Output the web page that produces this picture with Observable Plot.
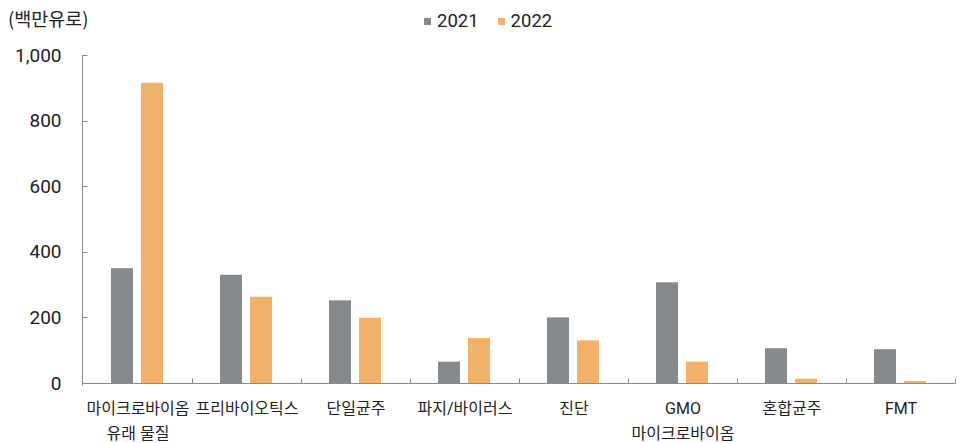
<!DOCTYPE html>
<html><head><meta charset="utf-8">
<script src="https://cdn.jsdelivr.net/npm/d3@7"></script>
<script src="https://cdn.jsdelivr.net/npm/@observablehq/plot@0.6"></script>
<style>
body{margin:0;background:#fff;}
#wrap{position:relative;width:967px;height:443px;font-family:Roboto,"Noto Sans CJK KR",sans-serif;color:#222;}
#unit{position:absolute;left:8px;top:6px;font-size:18.5px;line-height:24px;font-family:"Noto Sans CJK KR",sans-serif;}
#legend{position:absolute;left:424px;top:11px;font-size:18.5px;line-height:20px;display:flex;align-items:center;}
.sw{display:inline-block;width:7px;height:7px;margin-right:6px;}
#chart{position:absolute;left:0;top:0;}
</style>
</head><body>
<div id="wrap">
<div id="chart"></div>
<div id="unit">(백만유로)</div>
<div id="legend"></div>
</div>
<script>
const categories = ["마이크로바이옴\n유래 물질", "프리바이오틱스", "단일균주", "파지/바이러스", "진단", "GMO\n마이크로바이옴", "혼합균주", "FMT"];
const years = ["2021", "2022"];
const values2021 = [350, 330, 252, 65, 200, 307, 106, 103];
const values2022 = [915, 263, 199, 137, 130, 65, 13, 6];
const yTicks = [0, 200, 400, 600, 800, 1000];
const colors = ["#86898c", "#f0b26a"];

const data = [];
categories.forEach((c, i) => {
  data.push({category: c, year: years[0], value: values2021[i]});
  data.push({category: c, year: years[1], value: values2022[i]});
});

// legend
const legend = document.getElementById("legend");
years.forEach((yr, i) => {
  const sw = document.createElement("span");
  sw.className = "sw";
  sw.style.background = colors[i];
  if (i > 0) sw.style.marginLeft = "19px";
  legend.appendChild(sw);
  const t = document.createElement("span");
  t.textContent = yr;
  legend.appendChild(t);
});

const plot = Plot.plot({
  width: 967,
  height: 443,
  marginTop: 55,
  marginBottom: 60,
  marginLeft: 82,
  marginRight: 12,
  style: {fontFamily: 'Roboto, "Noto Sans CJK KR", sans-serif', color: "#222", background: "transparent"},
  fx: {domain: categories, paddingInner: 0, paddingOuter: 0, label: null},
  x: {domain: years, paddingInner: 0.258, paddingOuter: 0.89, axis: null},
  y: {domain: [0, 1000], label: null},
  color: {domain: years, range: colors},
  marks: [
    Plot.axisFx({anchor: "bottom", tickSize: 0, tickPadding: 13, fontSize: 16, lineHeight: 1.55, label: null, fill: "#222"}),
    Plot.axisY({ticks: yTicks, tickFormat: d3.format(","), tickSize: 0, tickPadding: 22, fontSize: 19, label: null, fill: "#222"}),
    Plot.barY(data, {fx: "category", x: "year", y: "value", fill: "year"})
  ]
});
document.getElementById("chart").appendChild(plot);

// axis lines and ticks drawn from the plot's own scales
const ys = plot.scale("y");
const fxs = plot.scale("fx");
const svg = d3.select(plot);
const g = svg.append("g").attr("stroke", "#8a8a8a").attr("stroke-width", 1);
const x0 = fxs.range[0] + 0.5;
const x1 = fxs.range[1] + 0.5;
const y0 = Math.round(ys.apply(0)) + 0.5;
g.append("line").attr("x1", x0).attr("x2", x0).attr("y1", Math.round(ys.apply(1000))).attr("y2", y0 + 2);
g.append("line").attr("x1", x0).attr("x2", x1).attr("y1", y0).attr("y2", y0);
yTicks.forEach(t => {
  const yy = Math.round(ys.apply(t)) + 0.5;
  g.append("line").attr("x1", x0).attr("x2", x0 + 5).attr("y1", yy).attr("y2", yy);
});
categories.forEach(c => {
  const xx = Math.round(fxs.apply(c) + fxs.bandwidth) + 0.5;
  g.append("line").attr("x1", xx).attr("x2", xx).attr("y1", y0 - 5).attr("y2", y0);
});
</script>
</body></html>
